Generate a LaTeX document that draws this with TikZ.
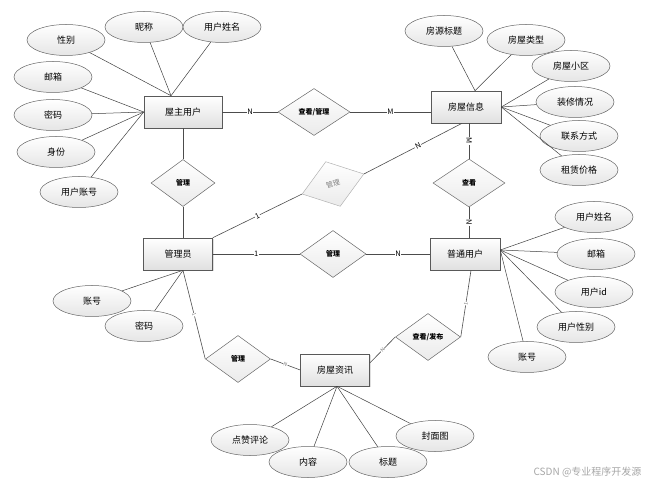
\documentclass[tikz,border=0pt]{standalone}
\usepackage{fontspec}
\setmainfont{Noto Sans CJK SC}
\usetikzlibrary{shapes.geometric,shadows}
\begin{document}
\begin{tikzpicture}[x=1pt,y=-1pt,
  ent/.style={rectangle,draw=black!65,line width=0.6pt,top color=white,bottom color=black!12,
    minimum width=70pt,minimum height=32pt,inner sep=0pt,font=\fontsize{9}{10}\selectfont,
    drop shadow={shadow xshift=1pt,shadow yshift=-1pt,opacity=0.25}},
  attr/.style={ellipse,draw=black!60,line width=0.5pt,top color=white,bottom color=black!10,
    minimum width=78pt,minimum height=31pt,inner sep=0pt,font=\fontsize{9}{10}\selectfont},
  rel/.style={diamond,draw=black!60,line width=0.5pt,top color=white,bottom color=black!8,
    minimum width=65pt,minimum height=47pt,inner sep=0pt,font=\fontsize{7}{8}\selectfont\bfseries},
  ln/.style={draw=black!75,line width=0.5pt},
  cn/.style={draw=black!70,line width=0.6pt},
  lab/.style={fill=white,inner sep=0.6pt,font=\fontsize{7.5}{8}\selectfont},
  slab/.style={fill=white,inner sep=0.4pt,text=black!55,font=\fontsize{5}{6}\selectfont,sloped}
]
\useasboundingbox (0,0) rectangle (651,486);

% entities
\node[ent,minimum width=78pt] (owner) at (183,112) {屋主用户};
\node[ent] (house) at (466,107) {房屋信息};
\node[ent,minimum width=69pt] (admin) at (178,254) {管理员};
\node[ent] (user) at (465,254) {普通用户};
\node[ent,minimum width=69pt] (news) at (335,370) {房屋资讯};

% relations
\node[rel,minimum width=72pt] (d1) at (314,112) {查看/管理};
\node[rel,minimum width=64pt] (d2) at (183,183) {管理};
\node[rel,draw=black!30,text=black!50,font=\fontsize{7}{8}\selectfont,rotate=18] (dg) at (333,184) {管理};
\node[rel,minimum width=72pt,minimum height=48pt] (d3) at (469,183) {查看};
\node[rel,minimum width=66pt] (d4) at (333,254) {管理};
\node[rel] (d5) at (238,359) {管理};
\node[rel] (d6) at (428,337) {查看/发布};

% owner attributes
\node[attr] (o1) at (66,40) {性别};
\node[attr] (o2) at (144,27) {昵称};
\node[attr] (o3) at (222,27) {用户姓名};
\node[attr] (o4) at (53,77) {邮箱};
\node[attr] (o5) at (53,115) {密码};
\node[attr] (o6) at (56,152) {身份};
\node[attr] (o7) at (79,192) {用户账号};
\coordinate (otop) at ([xshift=-12pt]owner.north);
\foreach \a in {o1,o2,o3} \draw[ln] (\a) -- (otop);
\foreach \a in {o4,o5,o6,o7} \draw[ln] (\a) -- (owner.west);

% house attributes
\node[attr] (h1) at (444,31) {房源标题};
\node[attr] (h2) at (526,40) {房屋类型};
\node[attr] (h3) at (571,66) {房屋小区};
\node[attr] (h4) at (575,102) {装修情况};
\node[attr] (h5) at (579,136) {联系方式};
\node[attr] (h6) at (579,170) {租赁价格};
\coordinate (htop) at ([xshift=9pt]house.north);
\foreach \a in {h1,h2} \draw[ln] (\a) -- (htop);
\foreach \a in {h3,h4,h5,h6} \draw[ln] (\a) -- (house.east);

% user attributes
\node[attr] (u1) at (594,217) {用户姓名};
\node[attr] (u2) at (596,254) {邮箱};
\node[attr] (u3) at (594,292) {用户id};
\node[attr] (u4) at (576,327) {用户性别};
\node[attr] (u5) at (527,357) {账号};
\coordinate (uright) at ([yshift=4pt]user.east);
\foreach \a in {u1,u2,u3,u4,u5} \draw[ln] (\a) -- (uright);

% admin attributes
\node[attr] (a1) at (92,301) {账号};
\node[attr] (a2) at (144,326) {密码};
\coordinate (abot) at ([xshift=5pt]admin.south);
\foreach \a in {a1,a2} \draw[ln] (\a) -- (abot);

% news attributes
\node[attr] (n1) at (250,440) {点赞评论};
\node[attr] (n2) at (308,462) {内容};
\node[attr] (n3) at (388,462) {标题};
\node[attr] (n4) at (435,436) {封面图};
\coordinate (nbot) at ([xshift=2pt]news.south);
\foreach \a in {n1,n2,n3,n4} \draw[ln] (\a) -- (nbot);

% connectors
\draw[cn] (owner.east) -- node[lab] {N} (d1.west);
\draw[cn] (d1.east) -- node[lab] {M} (d1.east -| house.west);
\draw[cn] (owner.south) -- (d2.north);
\draw[cn] (d2.south) -- (d2.south |- admin.north);
\draw[cn] (admin.north east) -- node[lab,sloped] {1} (dg.west);
\draw[cn] (dg.east) -- node[lab,sloped,pos=0.55] {N} ([xshift=-4pt]house.south);
\draw[cn] (d3.north |- house.south) -- node[lab,sloped] {M} (d3.north);
\draw[cn] (d3.south) -- node[lab,sloped] {N} (d3.south |- user.north);
\draw[cn] (admin.east) -- node[lab] {1} (d4.west);
\draw[cn] (d4.east) -- node[lab] {N} (user.west);
\draw[cn] (abot) -- node[slab] {1} (d5.west);
\draw[cn] (d5.east) -- node[slab] {N} (news.west);
\draw[cn] ([yshift=7pt]news.east) -- node[slab] {N} (d6.west);
\draw[cn] (d6.east) -- node[slab] {1} ([xshift=6pt]user.south);

% watermark
\node[text=black!35,font=\fontsize{10}{11}\selectfont,anchor=east] (wm) at (645,472) {CSDN @专业程序开发源};
\end{tikzpicture}
\end{document}
